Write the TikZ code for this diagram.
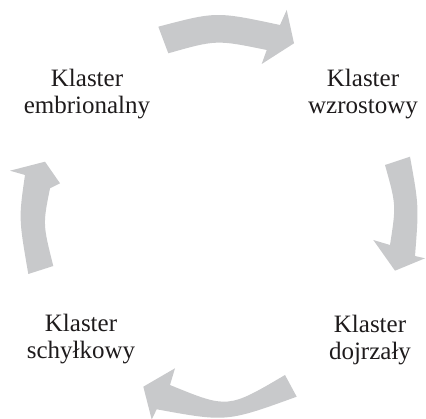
\documentclass[tikz,border=0pt]{standalone}
\usepackage{fontspec}
\setmainfont{Liberation Serif}
\definecolor{arrowgray}{RGB}{200,201,203}
\definecolor{textdark}{RGB}{30,27,28}
\begin{document}
\begin{tikzpicture}[x=1pt,y=-1pt,
  cyclearrow/.style={fill=arrowgray,draw=none},
  label/.style={align=center,anchor=base,text=textdark,inner sep=0pt,
    font=\fontsize{25}{27.5}\selectfont}]
\useasboundingbox (0,0) rectangle (426,419);
% top arrow
\fill[cyclearrow] (158.3,26.7) .. controls (216.3,11.4) .. (280,25) -- (286.7,10) -- (294,43.3)
  -- (261.7,64) -- (266.7,50) .. controls (216.4,39.7) .. (168.3,53.3) -- cycle;
% right arrow
\fill[cyclearrow] (410,156.7) .. controls (418.9,205.9) .. (415,256) -- (425,258.3) -- (395,270.7)
  -- (373.3,240) -- (390,245) .. controls (396.2,205) .. (385,165) -- cycle;
% bottom arrow
\fill[cyclearrow] (296.7,396.7) .. controls (226.7,422.1) .. (156.7,409.3) -- (151.7,419.5) -- (143.3,386.7)
  -- (175,368.3) -- (170,385) .. controls (227.8,408.7) .. (285,375) -- cycle;
% left arrow
\fill[cyclearrow] (28.3,274) .. controls (18.7,218.5) .. (25,175) -- (10,170.7) -- (45,161.7)
  -- (60,183.3) -- (50,188.3) .. controls (42.8,224.3) .. (53.3,266) -- cycle;
% labels (anchor = baseline of the last line)
\node[label] (emb) at (87,114) {Klaster\\embrionalny};
\node[label] (wzr) at (363,114) {Klaster\\wzrostowy};
\node[label] (dojr) at (370,360) {Klaster\\dojrzały};
\node[label] (schy) at (81,359) {Klaster\\schyłkowy};
\end{tikzpicture}
\end{document}
